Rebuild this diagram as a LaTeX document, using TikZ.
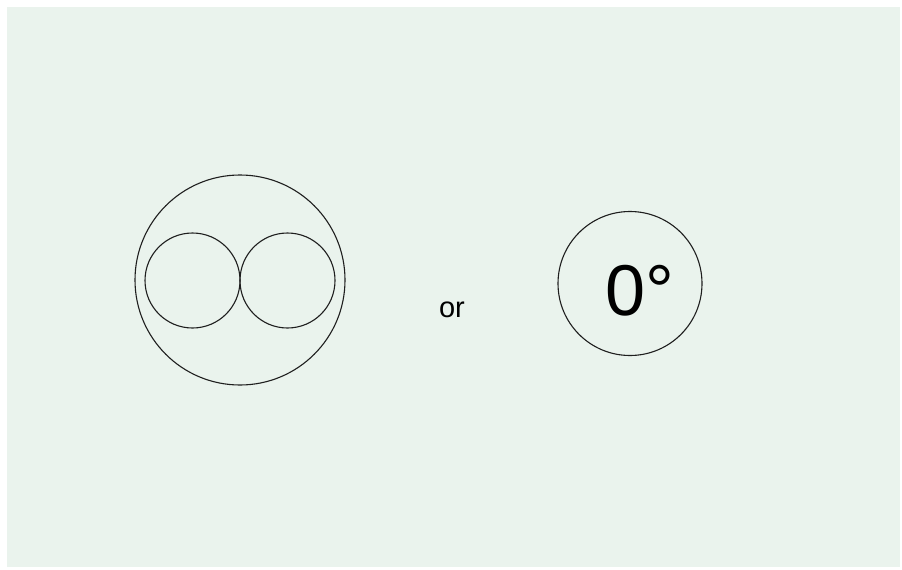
\documentclass[tikz,border=0pt]{standalone}
\usepackage{fontspec}
\setmainfont{Liberation Sans}
\definecolor{paper}{RGB}{234,243,237}
\definecolor{ink}{RGB}{30,30,30}
\tikzset{ring/.style={draw=ink, line width=1.1pt, circle, inner sep=0pt}}
\begin{document}
\begin{tikzpicture}[x=1pt, y=-1pt]
\useasboundingbox (0,0) rectangle (902,570);
\fill[paper] (7,7) rectangle (900,567);
\node [ring, minimum size=210pt] at (240,280) (outer) {};
\node [ring, minimum size=95pt] at (192.5,280.5) (lefteye) {};
\node [ring, minimum size=95pt] at (287.5,280.5) (righteye) {};
\node [font=\fontsize{29}{32}\selectfont] at (452,310) (or) {or};
\node [ring, minimum size=144pt] at (630,283.5) (dial) {};
\node [font=\fontsize{72}{80}\selectfont] at (640,291) (zero) {0°};
\end{tikzpicture}
\end{document}
